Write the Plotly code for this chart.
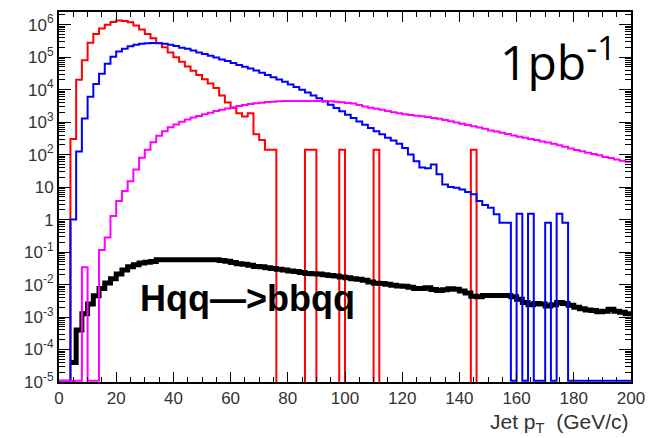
import plotly.graph_objects as go

# bin edges: 100 bins of 2 GeV from 0 to 200
bin_width = 2
n_bins = 100

# Red histogram (background, peaked ~22 GeV)
red_vals = [0, 0, 300, 2.0e4, 8.0e4, 2.8e5, 5.2e5, 7.6e5, 1.0e6, 1.2e6,
            1.35e6, 1.3e6, 1.18e6, 9.5e5, 7.1e5, 5.2e5, 3.8e5, 2.75e5, 2.0e5, 1.4e5,
            1.0e5, 7.2e4, 5.2e4, 3.8e4, 2.8e4, 2.1e4, 1.55e4, 1.12e4, 6.6e3, 4.0e3,
            2.7e3, 1.86e3, 1.5e3, 1.86e3, 420, 280, 140, 140, 0, 0,
            0, 0, 0, 140, 140, 0, 0, 0, 0, 140,
            0, 0, 0, 0, 0, 140, 0, 0, 0, 0,
            0, 0, 0, 0, 0, 0, 0, 0, 0, 0,
            0, 0, 140, 0, 0, 0, 0, 0, 0, 0,
            0, 0, 0, 0, 0, 0, 0, 0, 0, 0,
            0, 0, 0, 0, 0, 0, 0, 0, 0, 0]

# Blue histogram
blue_vals = [0, 0, 1.0, 125, 1.3e3, 6.0e3, 1.5e4, 3.1e4, 6.3e4, 1.02e5,
             1.5e5, 1.8e5, 2.15e5, 2.4e5, 2.6e5, 2.7e5, 2.75e5, 2.7e5, 2.6e5, 2.4e5,
             2.2e5, 1.95e5, 1.8e5, 1.6e5, 1.4e5, 1.26e5, 1.1e5, 9.8e4, 8.5e4, 7.6e4,
             6.6e4, 5.75e4, 5.1e4, 4.5e4, 3.9e4, 3.3e4, 2.8e4, 2.4e4, 2.05e4, 1.75e4,
             1.45e4, 1.2e4, 1.0e4, 8.1e3, 6.6e3, 5.4e3, 4.3e3, 3.4e3, 2.7e3, 2.15e3,
             1.7e3, 1.35e3, 1.05e3, 830, 660, 525, 420, 330, 270, 215,
             160, 100, 63, 40, 38, 50, 25, 12, 10, 9.5,
             8.5, 7.1, 6.0, 3.7, 2.8, 2.3, 1.45, 0.8, 0.8, 0,
             1.5, 0, 1.5, 0, 0, 0.8, 0, 1.5, 0.8, 0,
             0, 0, 0, 0, 0, 0, 0, 0, 0, 0]

# Magenta histogram
magenta_vals = [0, 0, 0, 0, 0.034, 0, 0, 0.115, 0.28, 1.3,
                3.7, 7.6, 15, 35, 80, 140, 240, 380, 525, 690,
                850, 1020, 1200, 1380, 1550, 1740, 1950, 2190, 2400, 2630,
                2880, 3160, 3390, 3630, 3800, 3980, 4170, 4270, 4370, 4470,
                4470, 4470, 4470, 4470, 4470, 4470, 4470, 4370, 4270, 4070,
                3890, 3720, 3390, 3020, 2750, 2570, 2400, 2190, 2000, 1860,
                1740, 1660, 1580, 1510, 1450, 1350, 1260, 1170, 1070, 980,
                890, 810, 740, 680, 620, 550, 510, 470, 430, 390,
                355, 330, 300, 280, 255, 235, 215, 195, 175, 155,
                138, 126, 115, 105, 95, 85, 78, 71, 65, 60]

# Black histogram (Hqq -> bbqq signal)
black_vals = [0, 0, 4.0e-5, 4.0e-4, 1.26e-3, 2.5e-3, 4.5e-3, 7.6e-3, 1.12e-2, 1.5e-2,
              2.1e-2, 2.8e-2, 3.5e-2, 4.1e-2, 4.6e-2, 4.9e-2, 5.1e-2, 5.75e-2, 5.75e-2, 5.75e-2,
              5.75e-2, 5.75e-2, 5.75e-2, 5.75e-2, 5.75e-2, 5.75e-2, 5.75e-2, 5.75e-2, 5.5e-2, 5.25e-2,
              4.8e-2, 4.4e-2, 4.2e-2, 3.9e-2, 3.6e-2, 3.5e-2, 3.3e-2, 3.1e-2, 2.95e-2, 2.8e-2,
              2.6e-2, 2.5e-2, 2.35e-2, 2.2e-2, 2.15e-2, 2.1e-2, 2.0e-2, 1.9e-2, 1.82e-2, 1.7e-2,
              1.62e-2, 1.5e-2, 1.45e-2, 1.35e-2, 1.2e-2, 1.1e-2, 1.07e-2, 1.02e-2, 9.5e-3, 9.1e-3,
              8.9e-3, 8.3e-3, 7.6e-3, 7.6e-3, 7.9e-3, 7.1e-3, 6.6e-3, 6.9e-3, 7.4e-3, 7.2e-3,
              6.3e-3, 5.5e-3, 4.4e-3, 4.2e-3, 4.6e-3, 4.6e-3, 4.6e-3, 4.6e-3, 4.6e-3, 4.2e-3,
              3.5e-3, 2.8e-3, 2.4e-3, 2.6e-3, 2.5e-3, 2.2e-3, 2.4e-3, 2.8e-3, 2.6e-3, 2.3e-3,
              2.0e-3, 1.8e-3, 1.66e-3, 1.6e-3, 1.45e-3, 1.5e-3, 1.75e-3, 1.5e-3, 1.4e-3, 1.26e-3]

edges = [i * bin_width for i in range(n_bins + 1)]

y_tickvals = [1e-5, 1e-4, 1e-3, 1e-2, 1e-1, 1, 10, 1e2, 1e3, 1e4, 1e5, 1e6]
y_ticktext = ["10<sup>-5</sup>", "10<sup>-4</sup>", "10<sup>-3</sup>", "10<sup>-2</sup>",
              "10<sup>-1</sup>", "1", "10", "10<sup>2</sup>", "10<sup>3</sup>",
              "10<sup>4</sup>", "10<sup>5</sup>", "10<sup>6</sup>"]
y_minor = [m * 10.0 ** k for k in range(-5, 7) for m in range(2, 10)]
x_tickvals = list(range(0, 201, 20))


def step(vals, floor, trim_leading=False):
    start = 0
    if trim_leading:
        while vals[start] <= 0:
            start += 1
    ys = [v if v > 0 else floor for v in vals[start:]]
    return edges[start:], ys + [ys[-1]]


fig = go.Figure()
for vals, color, width, floor, trim in [(red_vals, "#ff0000", 2, 1.0e-7, False),
                                        (black_vals, "black", 5, 1.0e-5, True),
                                        (blue_vals, "#0000ff", 2, 1.1e-5, False),
                                        (magenta_vals, "#ff00ff", 2, 1.1e-5, False)]:
    xs, ys = step(vals, floor, trim)
    fig.add_trace(go.Scatter(x=xs, y=ys, mode="lines", line_shape="hv",
                             line=dict(color=color, width=width), showlegend=False,
                             hoverinfo="skip"))

tickfont = dict(family="Liberation Sans, Arial, sans-serif", size=17, color="#333333")

fig.update_xaxes(range=[0, 200], tickmode="array", tickvals=x_tickvals,
                 ticks="inside", ticklen=10, tickwidth=1, tickcolor="black",
                 showline=True, linecolor="black", linewidth=2, mirror="allticks",
                 minor=dict(ticks="inside", ticklen=5, dtick=5, tickcolor="black", showgrid=False),
                 showgrid=False, zeroline=False, tickfont=tickfont)
fig.update_yaxes(type="log", range=[-5, 6.39], tickmode="array", tickvals=y_tickvals,
                 ticktext=y_ticktext, ticks="inside", ticklen=12, tickwidth=1, tickcolor="black",
                 showline=True, linecolor="black", linewidth=2, mirror="allticks",
                 minor=dict(ticks="inside", ticklen=6, tickmode="array", tickvals=y_minor,
                            tickcolor="black", showgrid=False),
                 showgrid=False, zeroline=False, tickfont=tickfont)

fig.add_annotation(x=0.329, y=0.226, xref="paper", yref="paper",
                   xanchor="center", yanchor="middle",
                   text="<b>Hqq\u2014>bbqq</b>", showarrow=False,
                   font=dict(family="Liberation Sans, Arial, sans-serif", size=36, color="black"))
fig.add_annotation(x=0.978, y=0.872, xref="paper", yref="paper", xanchor="right",
                   yanchor="middle", text="1pb<sup>-1</sup>", showarrow=False,
                   font=dict(family="Open Sans, sans-serif", size=48, color="black"))
fig.add_annotation(x=1.0, y=-0.112, xref="paper", yref="paper", xanchor="right",
                   yanchor="middle", text="Jet p<sub>T</sub>  (GeV/c)", showarrow=False,
                   font=dict(family="Liberation Sans, Arial, sans-serif", size=21, color="#333333"))

fig.update_layout(width=655, height=438, margin=dict(l=59, r=18, t=10, b=56),
                  paper_bgcolor="white", plot_bgcolor="white")
fig.write_html("out.html")
